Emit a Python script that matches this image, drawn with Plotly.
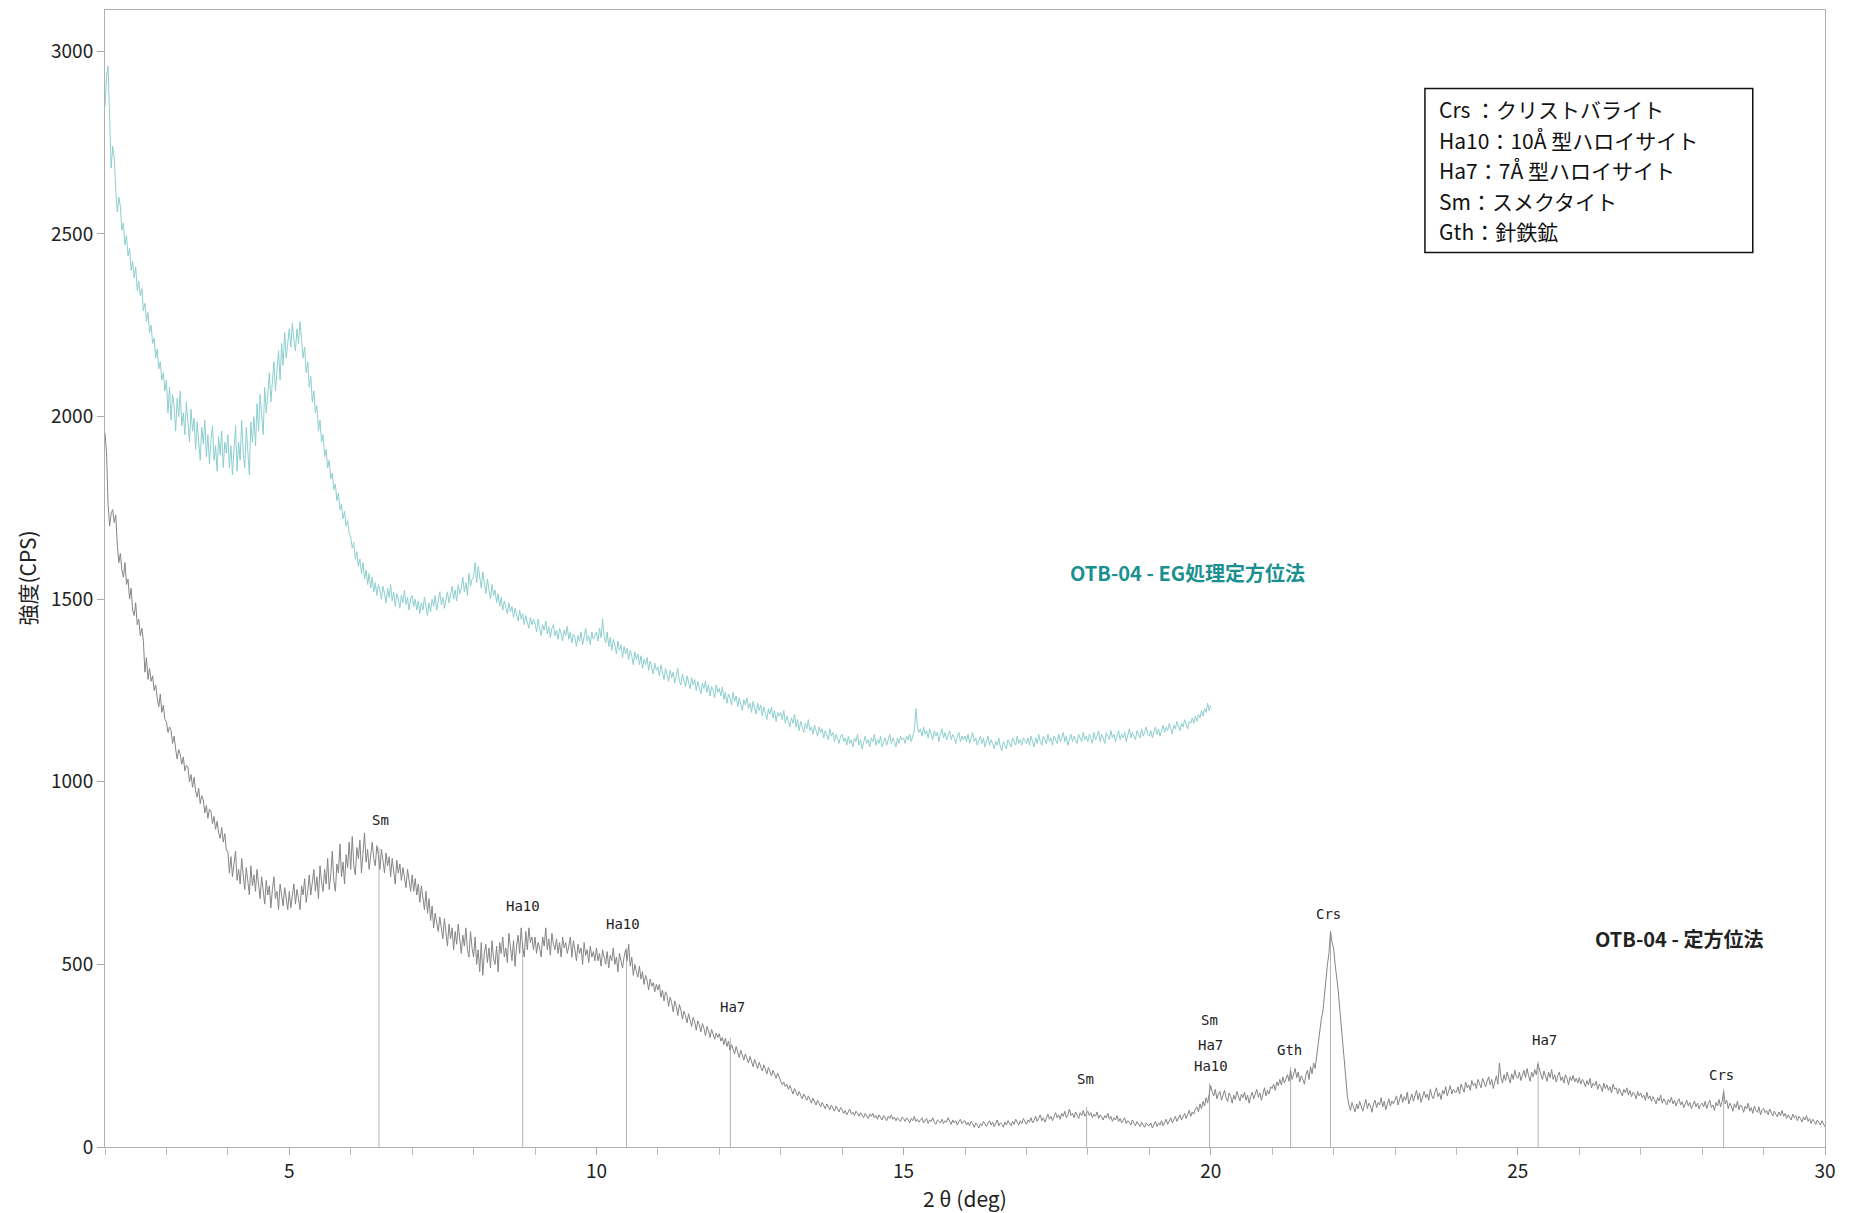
import numpy as np
import plotly.graph_objects as go

# scan grid (2theta, deg)
THETA_START = 2.0
THETA_STEP = 0.025

# OTB-04 - 定方位法 (2.000 .. 30.000, two lines per degree)
oriented_cps = [
    1955, 1900, 1760, 1700, 1735, 1745, 1710, 1730, 1650, 1600, 1625, 1580, 1560, 1600, 1540, 1555, 1500, 1530, 1470, 1455,
    1490, 1430, 1445, 1400, 1420, 1385, 1300, 1340, 1280, 1310, 1275, 1290, 1250, 1265, 1230, 1205, 1240, 1190, 1210, 1170,
    1165, 1135, 1150, 1140, 1105, 1125, 1090, 1062, 1088, 1075, 1048, 1068, 1030, 1045, 1040, 1000, 1020, 985, 1012, 975,
    958, 982, 940, 962, 950, 915, 935, 900, 925, 918, 885, 905, 870, 892, 860, 845, 875, 835, 858, 812,
    810, 750, 795, 740, 775, 810, 730, 760, 720, 790, 745, 705, 765, 730, 690, 770, 715, 745, 700, 760,
    720, 680, 740, 700, 665, 730, 690, 715, 655, 705, 740, 680, 700, 650, 720, 690, 660, 710, 675, 650,
    700, 655, 690, 720, 665, 705, 680, 650, 715, 690, 735, 670, 700, 745, 690, 720, 760, 700, 740, 680,
    770, 725, 700, 760, 720, 790, 705, 745, 810, 730, 700, 775, 750, 830, 740, 780, 720, 800, 765, 835,
    760, 850, 770, 745, 820, 790, 840, 750, 800, 860, 780, 815, 760, 800, 835, 790, 770, 825, 800, 760,
    815, 785, 750, 805, 770, 795, 740, 790, 760, 720, 785, 750, 775, 730, 765, 740, 710, 760, 725, 700,
    745, 700, 735, 690, 720, 670, 715, 680, 650, 700, 640, 680, 620, 660, 600, 640, 620, 590, 630, 600,
    570, 625, 590, 550, 610, 570, 600, 540, 590, 555, 610, 560, 530, 580, 550, 600, 540, 520, 590, 545,
    520, 575, 500, 540, 480, 560, 470, 530, 555, 505, 545, 490, 565, 515, 500, 550, 480, 560, 530, 575,
    520, 545, 505, 585, 540, 510, 565, 495, 550, 580, 530, 600, 545, 520, 590, 540, 600, 560, 575, 540,
    575, 530, 560, 545, 520, 575, 550, 600, 540, 570, 525, 585, 555, 540, 570, 530, 560, 520, 575, 545,
    560, 530, 550, 575, 520, 565, 540, 510, 555, 530, 545, 500, 560, 525, 540, 505, 550, 520, 535, 510,
    545, 510, 530, 495, 540, 515, 500, 535, 490, 525, 510, 545, 500, 520, 480, 530, 505, 490, 520, 540,
    510, 555, 495, 520, 470, 500, 480, 465, 495, 460, 480, 445, 470, 455, 430, 460, 440, 450, 425, 445,
    430, 445, 410, 430, 400, 425, 415, 385, 410, 395, 370, 400, 385, 360, 390, 375, 350, 372, 360, 340,
    365, 348, 330, 355, 342, 320, 345, 335, 315, 338, 325, 305, 330, 318, 300, 322, 310, 295, 312, 300,
    310, 290, 300, 280, 298, 275, 290, 265, 280, 270, 255, 275, 260, 245, 265, 250, 238, 255, 240, 230,
    248, 232, 220, 240, 228, 215, 232, 220, 208, 225, 212, 200, 218, 205, 195, 210, 198, 188, 202, 190,
    182, 170, 178, 165, 172, 158, 168, 155, 145, 160, 150, 140, 152, 142, 132, 145, 135, 128, 140, 130,
    120, 134, 125, 115, 128, 118, 110, 122, 115, 105, 118, 110, 102, 115, 108, 98, 112, 104, 96, 108,
    102, 92, 100, 88, 96, 104, 90, 95, 86, 98, 92, 84, 94, 88, 80, 92, 86, 78, 90, 84,
    92, 80, 86, 76, 88, 82, 74, 86, 80, 72, 84, 78, 88, 76, 82, 72, 80, 76, 70, 82,
    78, 70, 80, 74, 66, 78, 72, 84, 70, 76, 68, 74, 80, 66, 72, 78, 64, 74, 70, 80,
    68, 62, 74, 70, 66, 76, 64, 72, 68, 80, 70, 62, 74, 66, 72, 60, 70, 76, 64, 70,
    72, 60, 68, 58, 70, 64, 54, 66, 60, 52, 64, 58, 70, 62, 56, 66, 72, 60, 68, 56,
    64, 74, 58, 66, 62, 54, 68, 60, 72, 64, 58, 70, 62, 76, 66, 60, 72, 64, 78, 68,
    62, 74, 68, 80, 66, 72, 84, 70, 78, 88, 72, 80, 68, 82, 90, 76, 84, 72, 86, 94,
    80, 88, 76, 92, 84, 98, 80, 88, 104, 86, 92, 80, 96, 88, 78, 94, 86, 100, 84, 92,
    98, 86, 94, 80, 90, 84, 96, 78, 88, 82, 74, 86, 80, 92, 76, 84, 70, 80, 74, 86,
    70, 78, 66, 74, 80, 64, 72, 68, 60, 74, 66, 58, 70, 64, 56, 68, 62, 54, 66, 60,
    58, 66, 52, 62, 70, 56, 66, 60, 72, 58, 68, 76, 62, 70, 80, 66, 74, 84, 70, 78,
    88, 74, 84, 92, 78, 88, 100, 84, 96, 90, 104, 110, 96, 118, 105, 125, 112, 135, 120, 145,
    168, 150, 140, 158, 132, 145, 152, 128, 140, 155, 135, 125, 148, 138, 120, 142, 130, 152, 140, 126,
    145, 135, 150, 128, 142, 120, 138, 150, 132, 145, 158, 136, 148, 128, 150, 162, 140, 155, 145, 165,
    160, 172, 155, 178, 168, 185, 170, 192, 175, 188, 198, 180, 210, 185, 200, 215, 190, 205, 178, 195,
    185, 172, 198, 210, 185, 220, 200, 230, 215, 250, 280, 310, 350, 370, 420, 470, 500, 530, 590, 560,
    545, 500, 470, 430, 380, 330, 280, 220, 175, 140, 115, 100, 122, 108, 96, 118, 104, 125, 110, 98,
    115, 130, 105, 120, 112, 95, 118, 128, 108, 122, 115, 135, 110, 125, 102, 120, 132, 112, 126, 118,
    128, 140, 115, 132, 145, 122, 138, 128, 150, 118, 135, 145, 125, 140, 155, 130, 148, 122, 138, 152,
    135, 145, 128, 158, 140, 132, 150, 162, 138, 148, 130, 155, 145, 165, 140, 152, 168, 145, 158, 150,
    150, 165, 145, 172, 160, 150, 178, 162, 170, 155, 182, 168, 175, 160, 185, 170, 162, 188, 175, 165,
    180, 192, 170, 185, 160, 178, 195, 172, 230, 190, 175, 198, 182, 205, 188, 175, 200, 185, 210, 192,
    188, 205, 182, 198, 210, 190, 215, 195, 180, 205, 192, 212, 198, 228, 215, 200, 185, 208, 195, 180,
    205, 190, 212, 185, 198, 178, 195, 205, 182, 192, 175, 198, 188, 170, 192, 182, 196, 178, 188, 175,
    190, 172, 185, 178, 165, 182, 170, 188, 162, 175, 168, 180, 158, 172, 165, 152, 175, 160, 170, 155,
    165, 148, 172, 158, 162, 145, 160, 152, 140, 158, 148, 162, 142, 155, 138, 150, 145, 132, 152, 140,
    148, 135, 142, 128, 150, 132, 140, 125, 138, 130, 118, 135, 126, 142, 120, 132, 125, 115, 130, 122,
    136, 118, 128, 112, 125, 132, 115, 124, 108, 120, 128, 112, 122, 105, 118, 126, 110, 120, 104, 116,
    120, 110, 125, 105, 118, 128, 108, 115, 100, 122, 112, 130, 110, 125, 152, 118, 128, 105, 120, 112,
    98, 118, 108, 125, 102, 115, 110, 95, 112, 104, 120, 98, 108, 92, 112, 100, 95, 110, 88, 102,
    106, 94, 100, 88, 104, 92, 85, 98, 90, 82, 96, 86, 100, 84, 92, 78, 88, 82, 74, 90,
    80, 86, 72, 84, 78, 68, 82, 74, 86, 70, 78, 64, 76, 70, 62, 74, 66, 60, 72, 64,
    55,
]

# OTB-04 - EG処理定方位法 (2.000 .. 20.000)
eg_cps = [
    2850, 2930, 2960, 2820, 2680, 2740, 2710, 2620, 2560, 2600, 2575, 2510, 2530, 2470, 2495, 2440, 2460, 2400, 2425, 2380,
    2410, 2345, 2370, 2330, 2350, 2290, 2310, 2260, 2285, 2230, 2250, 2200, 2215, 2160, 2185, 2130, 2150, 2100, 2120, 2070,
    2100, 2010, 2080, 1990, 2060, 2030, 1960, 2050, 2000, 2070, 1975, 2010, 1950, 2040, 1990, 1930, 2020, 1960, 1995, 1910,
    1985, 1940, 1880, 1970, 1925, 1990, 1890, 1950, 1870, 1935, 1975, 1880, 1920, 1850, 1945, 1895, 1960, 1860, 1930, 1900,
    1950, 1860, 1920, 1840, 1905, 1975, 1850, 1930, 1880, 1990, 1900, 1860, 1970, 1910, 1840, 1985, 1930, 2000, 1920, 2035,
    1960, 2060, 1990, 1950, 2080, 2010, 2060, 2120, 2040, 2100, 2150, 2070, 2130, 2180, 2100, 2200, 2140, 2230, 2160, 2200,
    2240, 2190, 2255, 2210, 2180, 2240, 2200, 2260, 2210, 2160, 2190, 2120, 2150, 2080, 2110, 2040, 2070, 2010, 2030, 1960,
    1990, 1930, 1950, 1890, 1910, 1860, 1880, 1830, 1845, 1800, 1815, 1770, 1790, 1745, 1760, 1720, 1740, 1700, 1715, 1680,
    1670, 1640, 1655, 1610, 1630, 1590, 1610, 1570, 1600, 1555, 1580, 1540, 1570, 1530, 1560, 1520, 1545, 1510, 1540, 1525,
    1500, 1535, 1515, 1490, 1530, 1505, 1540, 1495, 1520, 1480, 1515, 1500, 1475, 1510, 1490, 1525, 1485, 1505, 1470, 1500,
    1510, 1480, 1500, 1470, 1495, 1460, 1490, 1470, 1505, 1475, 1455, 1490, 1465, 1500, 1480, 1510, 1470, 1495, 1520, 1485,
    1505, 1475, 1500, 1520, 1490, 1510, 1535, 1500, 1525, 1495, 1540, 1515, 1530, 1560, 1520, 1545, 1510, 1570, 1535, 1555,
    1560, 1600, 1545, 1590, 1560, 1530, 1575, 1540, 1515, 1555, 1530, 1500, 1540, 1510, 1525, 1490, 1515, 1480, 1505, 1470,
    1495, 1475, 1460, 1490, 1465, 1480, 1450, 1475, 1455, 1440, 1470, 1445, 1460, 1430, 1455, 1440, 1420, 1450, 1430, 1445,
    1435, 1410, 1445, 1420, 1400, 1430, 1415, 1440, 1405, 1425, 1395, 1420, 1430, 1400, 1415, 1390, 1420, 1405, 1385, 1415,
    1400, 1425, 1390, 1410, 1380, 1405, 1395, 1370, 1400, 1385, 1410, 1375, 1395, 1420, 1385, 1400, 1375, 1410, 1390, 1400,
    1410, 1385, 1420, 1395, 1445, 1400, 1380, 1410, 1370, 1395, 1360, 1390, 1375, 1350, 1385, 1360, 1375, 1340, 1370, 1350,
    1365, 1335, 1360, 1345, 1320, 1355, 1335, 1350, 1320, 1345, 1310, 1335, 1320, 1340, 1305, 1330, 1315, 1295, 1325, 1305,
    1315, 1290, 1320, 1300, 1280, 1310, 1290, 1275, 1305, 1285, 1300, 1270, 1290, 1310, 1275, 1265, 1295, 1280, 1260, 1290,
    1270, 1255, 1285, 1265, 1280, 1250, 1275, 1260, 1240, 1270, 1255, 1275, 1245, 1265, 1235, 1260, 1250, 1230, 1265, 1245,
    1255, 1235, 1260, 1225, 1245, 1215, 1240, 1230, 1210, 1245, 1220, 1235, 1205, 1230, 1215, 1195, 1225, 1210, 1230, 1200,
    1215, 1190, 1220, 1205, 1185, 1215, 1195, 1210, 1180, 1205, 1190, 1170, 1200, 1185, 1205, 1175, 1195, 1165, 1190, 1180,
    1190, 1170, 1195, 1160, 1180, 1165, 1150, 1175, 1160, 1185, 1150, 1170, 1140, 1165, 1150, 1135, 1160, 1145, 1170, 1140,
    1150, 1130, 1155, 1140, 1125, 1150, 1135, 1145, 1120, 1140, 1130, 1115, 1145, 1125, 1135, 1110, 1130, 1120, 1105, 1125,
    1130, 1110, 1120, 1100, 1125, 1105, 1115, 1095, 1120, 1110, 1130, 1100, 1115, 1090, 1110, 1125, 1105, 1115, 1095, 1120,
    1110, 1130, 1100, 1115, 1105, 1125, 1095, 1110, 1120, 1100, 1115, 1130, 1105, 1120, 1110, 1095, 1120, 1105, 1125, 1115,
    1120, 1105, 1125, 1115, 1130, 1110, 1125, 1140, 1200, 1150, 1135, 1145, 1125, 1150, 1130, 1140, 1120, 1145, 1130, 1115,
    1140, 1125, 1135, 1110, 1130, 1145, 1120, 1135, 1115, 1125, 1140, 1115, 1130, 1120, 1105, 1125, 1135, 1110, 1125, 1115,
    1125, 1110, 1130, 1105, 1120, 1135, 1110, 1120, 1100, 1115, 1125, 1105, 1120, 1095, 1110, 1125, 1100, 1115, 1105, 1090,
    1110, 1100, 1120, 1095, 1085, 1110, 1100, 1090, 1115, 1105, 1095, 1120, 1110, 1100, 1125, 1105, 1115, 1100, 1120, 1110,
    1105, 1120, 1100, 1125, 1110, 1095, 1120, 1105, 1130, 1110, 1100, 1125, 1115, 1105, 1130, 1110, 1120, 1100, 1125, 1115,
    1105, 1130, 1110, 1120, 1135, 1110, 1125, 1100, 1120, 1130, 1110, 1125, 1115, 1105, 1130, 1120, 1110, 1135, 1115, 1125,
    1110, 1130, 1120, 1105, 1135, 1115, 1125, 1140, 1110, 1130, 1120, 1105, 1135, 1125, 1115, 1140, 1120, 1130, 1110, 1125,
    1140, 1115, 1130, 1120, 1135, 1110, 1125, 1145, 1120, 1135, 1125, 1115, 1140, 1130, 1120, 1145, 1125, 1135, 1150, 1130,
    1125, 1140, 1120, 1135, 1150, 1130, 1145, 1125, 1140, 1155, 1135, 1150, 1140, 1160, 1145, 1130, 1155, 1145, 1165, 1150,
    1140, 1160, 1150, 1170, 1155, 1145, 1165, 1160, 1175, 1160, 1180, 1165, 1185, 1175, 1195, 1180, 1200, 1190, 1215, 1195,
    1210,
]

# identified peaks (stick position, stick top)
peak_pos = [6.46, 8.80, 10.49, 12.18, 17.98, 19.98, 21.30, 21.95, 25.33, 28.35]
peak_top = [820, 560, 545, 300, 110, 175, 220, 588, 235, 160]

# peak labels (text, x, y)
peak_text = ["Sm", "Ha10", "Ha10", "Ha7", "Sm", "Sm", "Ha7", "Ha10", "Gth", "Crs", "Ha7", "Crs"]
peak_text_x = [6.49, 8.80, 10.43, 12.22, 17.96, 19.98, 20.00, 20.00, 21.28, 21.92, 25.43, 28.31]
peak_text_y = [894, 659, 610, 384, 187, 349, 278, 223, 265, 639, 294, 197]

legend_lines = [
    "Crs ：クリストバライト",
    "Ha10：10Å 型ハロイサイト",
    "Ha7：7Å 型ハロイサイト",
    "Sm：スメクタイト",
    "Gth：針鉄鉱",
]

print("points:", len(oriented_cps), len(eg_cps))
x_oriented = THETA_START + THETA_STEP * np.arange(len(oriented_cps))
x_eg = THETA_START + THETA_STEP * np.arange(len(eg_cps))

JP = "Noto Sans CJK JP"

fig = go.Figure()

# peak sticks
sx, sy = [], []
for p, h in zip(peak_pos, peak_top):
    sx += [p, p, None]
    sy += [0, h, None]
fig.add_trace(go.Scatter(x=sx, y=sy, mode="lines",
                         line=dict(color="#b4b4b4", width=1), hoverinfo="skip"))

fig.add_trace(go.Scatter(x=x_eg, y=eg_cps, mode="lines", name="OTB-04 - EG処理定方位法",
                         line=dict(color="#8dcfcf", width=1)))
fig.add_trace(go.Scatter(x=x_oriented, y=oriented_cps, mode="lines", name="OTB-04 - 定方位法",
                         line=dict(color="#858585", width=1)))

annotations = []
for t, x, y in zip(peak_text, peak_text_x, peak_text_y):
    annotations.append(dict(x=x, y=y, text=t, showarrow=False,
                            font=dict(family="Liberation Sans Narrow, DejaVu Sans Mono", size=14,
                                      color="#222222")))

annotations.append(dict(x=19.63, y=1572, text="OTB-04 - EG処理定方位法", showarrow=False,
                        font=dict(family=JP, size=20, color="#1a9090", weight="bold")))
annotations.append(dict(x=27.62, y=571, text="OTB-04 - 定方位法", showarrow=False,
                        font=dict(family=JP, size=20, color="#222222", weight="bold")))

# legend box text
for i, line in enumerate(legend_lines):
    annotations.append(dict(xref="paper", yref="paper", x=0.7744, y=0.9125 - i * 0.0268,
                            xanchor="left", yanchor="middle", text=line, showarrow=False,
                            font=dict(family=JP, size=21, color="#111111")))

# axis titles
annotations.append(dict(xref="paper", yref="paper", x=0, y=0.5, xshift=-79, textangle=-90,
                        xanchor="center", yanchor="middle",
                        text="強度(CPS)", showarrow=False,
                        font=dict(family=JP, size=21, color="#222222")))
annotations.append(dict(xref="paper", yref="paper", x=0.5, y=0, yshift=-51,
                        xanchor="center", yanchor="middle",
                        text="2 θ (deg)", showarrow=False,
                        font=dict(family=JP, size=21, color="#222222")))

# page body adds an 8px offset, so margins are trimmed to keep the plot box in place
fig.update_layout(
    width=1850,
    height=1213,
    margin=dict(l=97, r=33, t=2, b=74),
    paper_bgcolor="white",
    plot_bgcolor="white",
    showlegend=False,
    font=dict(family=JP, size=19, color="#222222"),
    annotations=annotations,
    shapes=[dict(type="rect", xref="paper", yref="paper", x0=0.7674, x1=0.958, y0=0.7868, y1=0.931,
                 line=dict(color="#111111", width=1.5))],
)

fig.update_xaxes(range=[2, 30], tick0=0, dtick=5, ticks="outside", ticklen=7, tickcolor="#aaaaaa",
                 minor=dict(dtick=1, ticks="outside", ticklen=7, tickcolor="#bbbbbb"),
                 showgrid=False, zeroline=False, showline=True, linecolor="#b0b0b0", linewidth=1,
                 mirror=True, tickfont=dict(size=19, color="#222222"))
fig.update_yaxes(range=[0, 3113], tick0=0, dtick=500, ticks="outside", ticklen=7, tickcolor="#aaaaaa",
                 showgrid=False, zeroline=False, showline=True, linecolor="#b0b0b0", linewidth=1,
                 mirror=True, tickfont=dict(size=19, color="#222222"))

fig.write_html("out.html")
